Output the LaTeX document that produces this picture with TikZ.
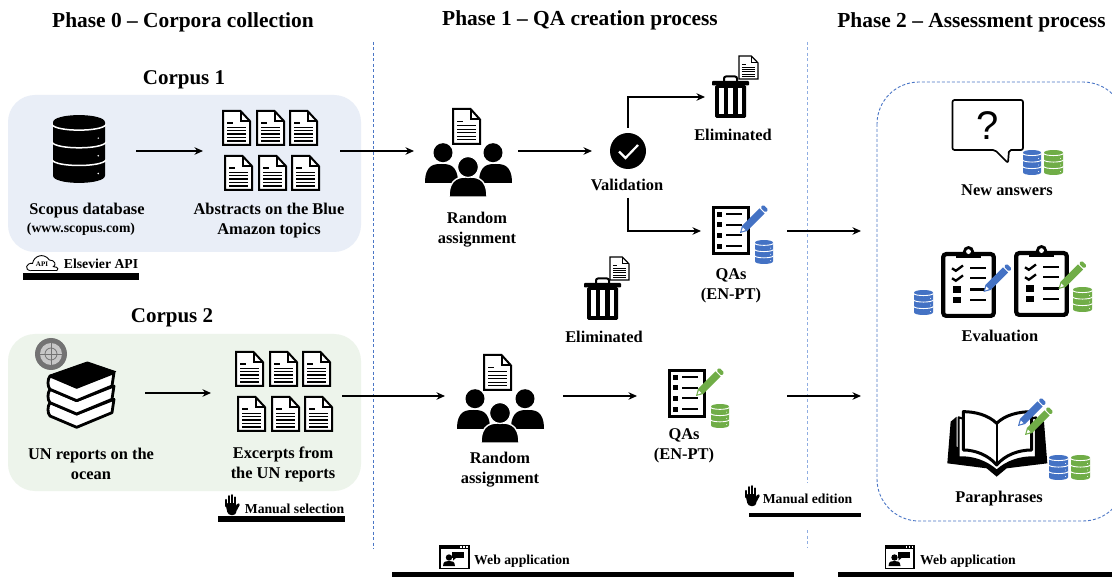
\documentclass[tikz,border=0pt]{standalone}
\usepackage{fontspec}
\setmainfont{Liberation Serif}
\setsansfont{Liberation Sans}
\usetikzlibrary{arrows.meta}
\definecolor{ublue}{HTML}{4472C4}
\definecolor{ugreen}{HTML}{70AD47}
\definecolor{panelblue}{HTML}{E9EEF7}
\definecolor{panelgreen}{HTML}{EDF4EB}
\definecolor{lineblue}{HTML}{4A76C6}
\definecolor{lightline}{HTML}{8FADE2}
\newcommand\tsize[2]{\fontsize{#1}{#2}\selectfont\bfseries}
\tikzset{
  port/.style={inner sep=0pt,outer sep=0pt,draw=none,minimum height=1pt},
  flow/.style={line width=2.1pt,-{Stealth[length=8.5pt,width=7.5pt]}},
  head/.style={inner sep=0pt,font=\tsize{21.4}{24}},
  corpus/.style={inner sep=0pt,font=\tsize{21}{24}},
  lab/.style={inner sep=0pt,align=center,font=\tsize{16.4}{20}},
  small/.style={inner sep=0pt,font=\tsize{13.7}{15}},
  phase/.style={line width=1pt,dash pattern=on 3pt off 2.5pt},
  bar/.style={fill=black}
}
% document icon
\newcommand\docicon[5]{\begin{scope}[shift={(#1,#2)},x=#3pt,y=-#4pt]
  \draw[line width=#5pt,fill=white,line join=miter] (0,0)--(.65,0)--(1,.3)--(1,1)--(0,1)--cycle;
  \draw[line width=#5pt] (.65,0)--(.65,.3)--(1,.3);
  \draw[line width=.7*#5pt] (.15,.35)--(.38,.35);
  \foreach \yy in {.48,.58,.68,.78,.88}{\draw[line width=.7*#5pt] (.15,\yy)--(.85,\yy);}
\end{scope}}
\newcommand\docgrid[2]{%
  \docicon{#1}{#2}{27}{34}{2}\docicon{#1+34}{#2}{27}{34}{2}\docicon{#1+67}{#2}{27}{34}{2}
  \docicon{#1+2}{#2+45}{27}{34}{2}\docicon{#1+36}{#2+45}{27}{34}{2}\docicon{#1+69}{#2+45}{27}{34}{2}}
% database icon
\newcommand\dbicon[6]{\begin{scope}[shift={(#1,#2)},x=#3pt,y=-#4pt]
  \fill[#5] (0,.11) .. controls (0,-.035) and (1,-.035) .. (1,.11) -- (1,.89) .. controls (1,1.035) and (0,1.035) .. (0,.89) -- cycle;
  \foreach \yy in {.14,.4,.66}{
    \draw[white,line width=#6pt] (-.02,\yy) .. controls (.05,\yy+.11) and (.95,\yy+.11) .. (1.02,\yy);
    \fill[white] (.87,\yy+.2) circle[radius=.55*#6pt];}
\end{scope}}
% trash icon
\newcommand\trashicon[2]{\begin{scope}[shift={(#1,#2)},x=1pt,y=-1pt]
  \draw[line width=2pt,rounded corners=2pt] (12,8) -- (12,1.5) -- (25,1.5) -- (25,8);
  \fill[rounded corners=.8pt] (0,6) rectangle (37,10.5);
  \fill[rounded corners=1.5pt] (3,10) rectangle (34,43);
  \foreach \xa/\xb in {7/11.5,16.2/20.8,25.5/30}{\fill[white] (\xa,13.5) rectangle (\xb,39.5);}
\end{scope}}
% people icon
\newcommand\shoulder[5]{\path[#5] (#1,#4) .. controls (#1,#3) and (#1+.3*#2-.3*#1,#3) .. (#1*.5+#2*.5,#3) .. controls (#2-.3*#2+.3*#1,#3) and (#2,#3) .. (#2,#4) -- cycle;}
\newcommand\peopleicon[2]{\begin{scope}[shift={(#1,#2)},x=1pt,y=-1pt]
  \fill (18,9.7) circle[radius=9.5pt];
  \fill (68,9.7) circle[radius=9.5pt];
  \shoulder{0}{33}{21}{40}{fill=black}
  \shoulder{54}{87}{21}{40}{fill=black}
  \shoulder{24}{62}{34}{54}{fill=black,draw=white,line width=1.4pt}
  \filldraw[draw=white,line width=1.2pt,fill=black] (43,24) circle[radius=10.5pt];
\end{scope}}
% checklist
\newcommand\qaicon[2]{\begin{scope}[shift={(#1,#2)},x=38pt,y=-49pt]
  \draw[line width=2.8pt,fill=white] (.03,.03) rectangle (.97,.97);
  \foreach \yy in {.17,.38,.6,.82}{
    \fill (.14,\yy-.05) rectangle (.27,\yy+.05);
    \draw[line width=1.8pt] (.38,\yy)--(.78,\yy);}
\end{scope}}
% pencil, tip at given point, running up and to the right
\newcommand\pencilicon[3]{\begin{scope}[shift={(#1,#2)},x=1pt,y=1pt]
  \fill[#3] (0,0) -- (2,7.2) -- (19.5,24.6) -- (24.6,19.5) -- (7.2,2) -- cycle;
  \fill[#3,rounded corners=1.2pt] (20.4,25.5) -- (23.2,28.3) -- (28.3,23.2) -- (25.5,20.4) -- cycle;
  \fill[white] (1.5,1.5) -- (2.9,5.5) -- (5.5,2.9) -- cycle;
\end{scope}}
% clipboard
\newcommand\clipicon[2]{\begin{scope}[shift={(#1,#2)},x=55pt,y=-71pt]
  \draw[line width=4.2pt,rounded corners=3pt,fill=white] (.04,.1) rectangle (.96,.97);
  \fill (.27,.16) rectangle (.73,.08);
  \fill (.5,.065) circle[radius=5.6pt];
  \fill[white] (.5,.065) circle[radius=2.4pt];
  \foreach \yy in {.3,.44}{
    \draw[line width=2.3pt] (.2,\yy) -- (.27,\yy+.035) -- (.4,\yy-.04);
    \draw[line width=2.4pt] (.53,\yy)--(.82,\yy);}
  \foreach \yy in {.6,.75}{
    \fill (.22,\yy-.045) rectangle (.36,\yy+.045);
    \draw[line width=2.4pt] (.53,\yy)--(.82,\yy);}
\end{scope}}
% hand
\newcommand\handicon[2]{\begin{scope}[shift={(#1,#2)},x=1pt,y=-1pt]
  \fill[rounded corners=3pt] (1.2,9) -- (13,9) -- (12,21) -- (4,21) -- cycle;
  \foreach \xa/\ya in {2.2/6,5.2/2.2,8.2/1.2,11.2/3.5}{\draw[line width=2.5pt,line cap=round] (\xa,12) -- (\xa,\ya);}
  \draw[line width=2.6pt,line cap=round] (11.5,16) -- (14.5,10.5);
\end{scope}}
% web application
\newcommand\webicon[2]{\begin{scope}[shift={(#1,#2)},x=1pt,y=-1pt]
  \draw[line width=1.8pt,fill=white] (.9,.9) rectangle (29.6,23.4);
  \fill (0,0) rectangle (30,4);
  \foreach \xa in {21,24,27}{\fill[white] (\xa,1.4) rectangle (\xa+1.6,2.8);}
  \fill (10,12.5) circle[radius=3.2pt];
  \shoulder{4}{16}{16}{21}{fill=black}
  \fill (13,7) rectangle (25,13);
  \fill (14,13) -- (17,13) -- (14,15.5) -- cycle;
\end{scope}}
\begin{document}
\begin{tikzpicture}[x=1pt,y=-1pt,line cap=butt]
\useasboundingbox (0,0) rectangle (1112,577);
\clip (0,0) rectangle (1112,577);
\fill[white] (0,0) rectangle (1112,577);

% panels
\fill[panelblue,rounded corners=27pt] (8,95) rectangle (361,252);
\fill[panelgreen,rounded corners=27pt] (8,334) rectangle (361,491);
\draw[lineblue,line width=.9pt,dash pattern=on 3pt off 2pt,rounded corners=42pt] (877,82) rectangle (1125,521);

% phase separators
\draw[phase,lineblue] (373,42) -- (373,549);
\draw[phase,lightline] (807,42) -- (807,483);
\draw[phase,lightline] (807,530) -- (807,547);

% headings
\node[head] (ph0) at (183,22) {Phase 0 – Corpora collection};
\node[head] (ph1) at (580,20) {Phase 1 – QA creation process};
\node[head] (ph2) at (971.5,22) {Phase 2 – Assessment process};
\node[corpus] (c1) at (184,80) {Corpus 1};
\node[corpus] (c2) at (172,318) {Corpus 2};

% corpus 1
\dbicon{53}{115}{52}{68}{black}{1.5}
\docgrid{223}{111}
\node[lab] (t1) at (87,211) {Scopus database};
\node[small] (t1b) at (81,229) {(www.scopus.com)};
\node[lab] (t2) at (269,221) {Abstracts on the Blue\\Amazon topics};

% cloud / Elsevier
\begin{scope}[shift={(0,60)},x=.3333pt,y=-.3333pt]
\draw[line width=.9pt,fill=white] (92,632) .. controls (72,630) and (78,608) .. (98,610) .. controls (100,590) and (130,575) .. (148,600) .. controls (165,600) and (170,615) .. (160,620) .. controls (178,620) and (175,632) .. (168,632);
\draw[line width=.9pt] (92,632) -- (168,632);
\end{scope}
\node[inner sep=0pt,font=\tsize{7}{8}] (api) at (42,264.5) {API};
\node[small] (t3) at (101,264) {Elsevier API};
\fill[bar] (23,273) rectangle (139,280);

% corpus 2
\fill[black!55] (51,354) circle[radius=16pt];
\fill[black!22] (51,354) circle[radius=11pt];
\draw[black!55,line width=.8pt] (51,343) -- (51,365) (40,354) -- (62,354);
\draw[black!55,line width=.8pt] (51,354) circle[radius=6pt];
\begin{scope}[shift={(0,300)},x=.3333pt,y=-.3333pt]
\foreach \dd in {80,40,0}{
  \draw[line width=2.8pt,fill=white,line join=round] (150,228+\dd) -- (230,262+\dd) -- (342,218+\dd) -- (336,258+\dd) -- (230,302+\dd) -- (150,268+\dd) .. controls (142,260+\dd) and (142,238+\dd) .. (150,228+\dd) -- cycle;}
\draw[line width=1pt,fill=black,line join=round] (148,226) -- (262,186) -- (347,215) -- (230,264) -- cycle;
\end{scope}
\docgrid{236}{352}
\node[lab] (t4) at (91,464) {UN reports on the\\ocean};
\node[lab] (t5) at (283,464) {Excerpts from\\the UN reports};
\handicon{224}{494}
\node[small] (t6) at (294.5,509) {Manual selection};
\fill[bar] (218,516) rectangle (345,522);

% phase 1, upper lane
\docicon{453}{109}{27}{35}{2}
\peopleicon{425}{143}
\node[lab] (t7) at (477,230) {Random\\assignment};
\fill (628,151) circle[radius=18pt];
\draw[white,line width=2.2pt] (619,151.5) -- (625.5,158) -- (638,145);
\node[lab] (t8) at (627,185) {Validation};
\trashicon{712}{75}
\docicon{739}{56}{19}{23}{1.2}
\node[lab] (t9) at (733,135) {Eliminated};
\qaicon{712}{206}
\pencilicon{740}{233}{ublue}
\dbicon{755}{240}{18}{24}{ublue}{.9}
\node[lab] (t10) at (731,286) {QAs\\(EN-PT)};

% phase 1, lower lane
\trashicon{584}{277}
\docicon{610}{257}{19}{23}{1.2}
\node[lab] (t11) at (604,337) {Eliminated};
\docicon{484}{355}{27}{35}{2}
\peopleicon{457}{389}
\node[lab] (t12) at (500,470) {Random\\assignment};
\qaicon{668}{369}
\pencilicon{696}{396}{ugreen}
\dbicon{711}{404}{18}{24}{ugreen}{.9}
\node[lab] (t13) at (684,446) {QAs\\(EN-PT)};
\handicon{744}{485}
\node[small] (t14) at (807.5,499) {Manual edition};
\fill[bar] (749,513) rectangle (861,516.5);

% web application bars
\webicon{439}{545}
\node[small] (t15) at (522,561) {Web application};
\fill[bar] (392,572) rectangle (794,577);
\webicon{884.5}{545}
\node[small] (t16) at (968,561) {Web application};
\fill[bar] (838,572) rectangle (1112,577);

% phase 2: new answers
\draw[line width=1.7pt,fill=white,line join=round,rounded corners=2pt] (952.5,100) -- (1023,100) -- (1023,150) -- (1009,150) -- (1008,163) -- (995,150) -- (952.5,150) -- cycle;
\node[inner sep=0pt,font=\fontsize{40}{42}\selectfont\sffamily] (q) at (988,125.5) {?};
\dbicon{1023}{150}{18}{25}{ublue}{.9}
\dbicon{1044}{150}{19}{25}{ugreen}{.9}
\node[lab] (t17) at (1007,190) {New answers};

% phase 2: evaluation
\dbicon{914}{290}{19}{25}{ublue}{.9}
\clipicon{941}{247}
\pencilicon{983.5}{292}{ublue}
\clipicon{1014}{246}
\pencilicon{1058.5}{289}{ugreen}
\dbicon{1073}{287}{19}{25}{ugreen}{.9}
\node[lab] (t18) at (1000,336) {Evaluation};

% phase 2: book
\begin{scope}[shift={(860,380)},x=.3333pt,y=-.3333pt]
\fill[line join=round] (272,125) -- (262,250) -- (380,265) -- (410,290) -- (440,265) -- (562,250) -- (552,125) -- (530,120) -- (530,200) -- (410,250) -- (290,200) -- (290,110) -- cycle;
\filldraw[line width=2pt,fill=white,line join=round] (296,112) -- (296,232) .. controls (340,230) and (380,245) .. (410,272) .. controls (440,245) and (480,230) .. (528,232) -- (528,112) -- (500,120) -- (410,150) -- (320,120) -- cycle;
\filldraw[line width=3pt,fill=white,line join=round] (310,95) -- (310,210) .. controls (345,210) and (385,225) .. (410,255) .. controls (435,225) and (475,210) .. (515,210) -- (515,95) .. controls (475,95) and (435,105) .. (410,130) .. controls (385,105) and (345,95) .. (310,95) -- cycle;
\draw[line width=2pt] (410,130) -- (410,255);
\end{scope}
\pencilicon{1018}{426}{ublue}
\pencilicon{1025}{435}{ugreen}
\dbicon{1049}{455}{19}{25}{ublue}{.9}
\dbicon{1071}{455}{19}{25}{ugreen}{.9}
\node[lab] (t19) at (999,499) {Paraphrases};

% ports that carry the connectors
\node[port,minimum width=96pt] (scopus) at (88,151) {};
\node[port,minimum width=137pt] (docsA) at (271.5,151) {};
\node[port,minimum width=104pt] (peopleA) at (466,151) {};
\node[port,minimum width=72pt,minimum height=70pt] (valid) at (628,163) {};
\node[port,minimum width=50pt] (elim) at (730,97) {};
\node[port,minimum width=86pt] (qaA) at (744,231) {};
\coordinate (assessA) at (861,231);
\node[port,minimum width=105pt] (books) at (92.5,393) {};
\node[port,minimum width=131pt] (docsB) at (276.5,396) {};
\node[port,minimum width=118pt] (peopleB) at (504,396) {};
\node[port,minimum width=150pt] (qaB) at (712,396) {};
\coordinate (assessB) at (861,396);

% connectors
\draw[flow] (scopus.east) -- (docsA.west);
\draw[flow] (docsA.east) -- (peopleA.west);
\draw[flow] (peopleA.east) -- (peopleA.east -| valid.west);
\draw[flow] (valid.north) |- (elim.west);
\draw[flow] (valid.south) |- (qaA.west);
\draw[flow] (qaA.east) -- (assessA);
\draw[flow] (books.east) -- (books.east -| docsB.west);
\draw[flow] (docsB.east) -- (peopleB.west);
\draw[flow] (peopleB.east) -- (qaB.west);
\draw[flow] (qaB.east) -- (assessB);
\end{tikzpicture}
\end{document}
